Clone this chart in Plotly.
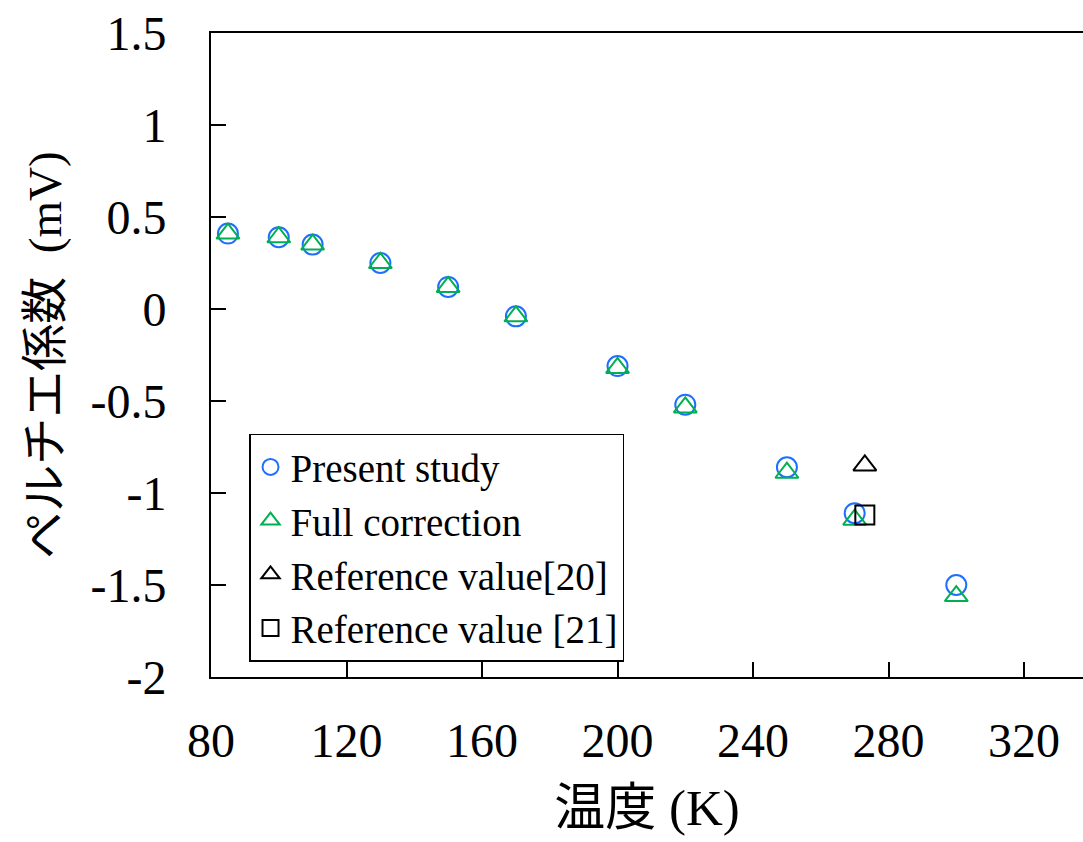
import plotly.graph_objects as go

# Data
temp_present = [85, 100, 110, 130, 150, 170, 200, 220, 250, 270, 300]
present_study = [0.41, 0.39, 0.35, 0.25, 0.12, -0.04, -0.31, -0.52, -0.86, -1.11, -1.50]
full_correction = [0.41, 0.39, 0.35, 0.25, 0.12, -0.04, -0.32, -0.535, -0.89, -1.145, -1.56]
temp_ref20 = [273]
ref20 = [-0.85]
temp_ref21 = [273]
ref21 = [-1.12]

x_ticks = [80, 120, 160, 200, 240, 280, 320]
x_ticktext = ["80", "120", "160", "200", "240", "280", "320"]
y_ticks = [1.5, 1, 0.5, 0, -0.5, -1, -1.5, -2]
y_ticktext = ["1.5", "1", "0.5", "0", "-0.5", "-1", "-1.5", "-2"]

FONT = "Liberation Serif, Times New Roman, Noto Sans CJK JP"
BLUE = "#1F6FFF"
GREEN = "#00B050"

fig = go.Figure()
fig.add_trace(go.Scatter(x=temp_present, y=present_study, mode="markers", name="Present study",
                         marker=dict(symbol="circle-open", size=20, color=BLUE, line=dict(width=2, color=BLUE))))
fig.add_trace(go.Scatter(x=temp_present, y=full_correction, mode="markers", name="Full correction",
                         marker=dict(symbol="triangle-up-open", size=20, color=GREEN, line=dict(width=2, color=GREEN))))
fig.add_trace(go.Scatter(x=temp_ref20, y=ref20, mode="markers", name="Reference value[20]",
                         marker=dict(symbol="triangle-up-open", size=20, color="black", line=dict(width=2, color="black"))))
fig.add_trace(go.Scatter(x=temp_ref21, y=ref21, mode="markers", name="Reference value [21]",
                         marker=dict(symbol="square-open", size=19, color="black", line=dict(width=2, color="black"))))

fig.update_layout(
    width=1083, height=842,
    margin=dict(l=211, r=0, t=33, b=165),
    paper_bgcolor="white", plot_bgcolor="white",
    font=dict(family=FONT, color="black"),
    showlegend=True,
    legend=dict(x=0.0436, y=0.378, xanchor="left", yanchor="top",
                bgcolor="white", bordercolor="black", borderwidth=1.5,
                font=dict(family=FONT, size=39, color="black"),
                itemsizing="trace", tracegroupgap=0),
    xaxis=dict(range=[80, 337.4], tickvals=x_ticks, ticktext=x_ticktext,
               ticks="inside", ticklen=15, tickwidth=2, tickcolor="black",
               showline=True, linewidth=2, linecolor="black", mirror=True,
               showgrid=False, zeroline=False,
               tickfont=dict(family=FONT, size=48, color="black"),
               ticklabelstandoff=20,
               title=dict(text="温度 (K)", font=dict(family=FONT, size=51, color="black"), standoff=24)),
    yaxis=dict(range=[-2, 1.5], tickvals=y_ticks, ticktext=y_ticktext,
               ticks="inside", ticklen=15, tickwidth=2, tickcolor="black",
               showline=True, linewidth=2, linecolor="black", mirror=False,
               showgrid=False, zeroline=False,
               tickfont=dict(family=FONT, size=48, color="black"),
               ticklabelstandoff=33,
               title=dict(text="ペルチエ係数\u2002(mV)", font=dict(family=FONT, size=47, color="black"), standoff=14)),
)

fig.write_html("out.html")
